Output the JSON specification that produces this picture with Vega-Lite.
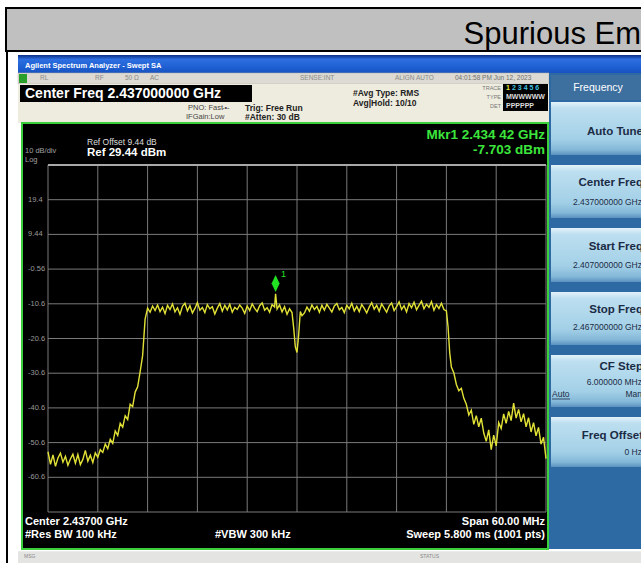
{
 "$schema": "https://vega.github.io/schema/vega-lite/v6.json",
 "width": 498, "height": 347,
 "autosize": {"type": "none"},
 "padding": {"left": 48, "top": 165, "right": 95, "bottom": 51},
 "background": "white",
 "view": {"stroke": null, "fill": null},
 "config": {"axis": {"disable": true}, "text": {"font": "Liberation Sans"}},
 "datasets": {
  "one": [{}],
  "gridx": [{"freq_ghz":2.407},{"freq_ghz":2.413},{"freq_ghz":2.419},{"freq_ghz":2.425},{"freq_ghz":2.431},{"freq_ghz":2.437},{"freq_ghz":2.443},{"freq_ghz":2.449},{"freq_ghz":2.455},{"freq_ghz":2.461},{"freq_ghz":2.467}],
  "gridy": [{"level_dbm":29.44},{"level_dbm":19.44},{"level_dbm":9.44},{"level_dbm":-0.56},{"level_dbm":-10.56},{"level_dbm":-20.56},{"level_dbm":-30.56},{"level_dbm":-40.56},{"level_dbm":-50.56},{"level_dbm":-60.56},{"level_dbm":-70.56}],
  "ylabels": [{"level_dbm":19.44,"label":"19.4"},{"level_dbm":9.44,"label":"9.44"},{"level_dbm":-0.56,"label":"-0.56"},{"level_dbm":-10.56,"label":"-10.6"},{"level_dbm":-20.56,"label":"-20.6"},{"level_dbm":-30.56,"label":"-30.6"},{"level_dbm":-40.56,"label":"-40.6"},{"level_dbm":-50.56,"label":"-50.6"},{"level_dbm":-60.56,"label":"-60.6"}],
  "marker": [{"freq_ghz":2.43442,"level_dbm":-7.703}],
  "trace": [
   {"freq_ghz":2.4070,"level_dbm":-53.2},{"freq_ghz":2.4073,"level_dbm":-56.8},{"freq_ghz":2.4076,"level_dbm":-54.1},{"freq_ghz":2.4079,"level_dbm":-57.4},{"freq_ghz":2.4082,"level_dbm":-55.0},{"freq_ghz":2.4085,"level_dbm":-53.6},{"freq_ghz":2.4088,"level_dbm":-56.2},{"freq_ghz":2.4091,"level_dbm":-54.5},{"freq_ghz":2.4094,"level_dbm":-57.1},{"freq_ghz":2.4097,"level_dbm":-55.3},{"freq_ghz":2.4100,"level_dbm":-53.9},{"freq_ghz":2.4103,"level_dbm":-56.5},{"freq_ghz":2.4106,"level_dbm":-54.0},{"freq_ghz":2.4109,"level_dbm":-56.9},{"freq_ghz":2.4112,"level_dbm":-55.4},{"freq_ghz":2.4115,"level_dbm":-52.8},{"freq_ghz":2.4118,"level_dbm":-55.9},{"freq_ghz":2.4121,"level_dbm":-54.2},{"freq_ghz":2.4124,"level_dbm":-56.3},{"freq_ghz":2.4127,"level_dbm":-53.5},{"freq_ghz":2.4130,"level_dbm":-54.8},{"freq_ghz":2.4133,"level_dbm":-52.6},
   {"freq_ghz":2.4136,"level_dbm":-53.4},{"freq_ghz":2.4139,"level_dbm":-51.0},{"freq_ghz":2.4142,"level_dbm":-52.3},{"freq_ghz":2.4145,"level_dbm":-49.6},{"freq_ghz":2.4148,"level_dbm":-50.8},{"freq_ghz":2.4151,"level_dbm":-47.2},{"freq_ghz":2.4154,"level_dbm":-48.5},{"freq_ghz":2.4157,"level_dbm":-45.0},{"freq_ghz":2.4160,"level_dbm":-46.1},{"freq_ghz":2.4163,"level_dbm":-42.8},{"freq_ghz":2.4166,"level_dbm":-43.9},{"freq_ghz":2.4169,"level_dbm":-39.5},{"freq_ghz":2.4172,"level_dbm":-40.2},{"freq_ghz":2.4175,"level_dbm":-36.0},{"freq_ghz":2.4178,"level_dbm":-34.5},{"freq_ghz":2.4181,"level_dbm":-30.2},{"freq_ghz":2.4184,"level_dbm":-25.5},{"freq_ghz":2.4187,"level_dbm":-15.0},
   {"freq_ghz":2.4190,"level_dbm":-11.8},{"freq_ghz":2.4193,"level_dbm":-13.0},{"freq_ghz":2.4196,"level_dbm":-11.2},{"freq_ghz":2.4199,"level_dbm":-12.5},{"freq_ghz":2.4202,"level_dbm":-10.9},{"freq_ghz":2.4205,"level_dbm":-12.8},{"freq_ghz":2.4208,"level_dbm":-11.5},{"freq_ghz":2.4211,"level_dbm":-13.4},{"freq_ghz":2.4214,"level_dbm":-11.0},{"freq_ghz":2.4217,"level_dbm":-12.2},{"freq_ghz":2.4220,"level_dbm":-10.6},{"freq_ghz":2.4223,"level_dbm":-12.9},{"freq_ghz":2.4226,"level_dbm":-11.7},{"freq_ghz":2.4229,"level_dbm":-13.6},{"freq_ghz":2.4232,"level_dbm":-11.3},{"freq_ghz":2.4235,"level_dbm":-10.4},{"freq_ghz":2.4238,"level_dbm":-12.6},{"freq_ghz":2.4241,"level_dbm":-11.1},{"freq_ghz":2.4244,"level_dbm":-13.2},{"freq_ghz":2.4247,"level_dbm":-11.9},{"freq_ghz":2.4250,"level_dbm":-10.2},{"freq_ghz":2.4253,"level_dbm":-12.4},{"freq_ghz":2.4256,"level_dbm":-11.6},{"freq_ghz":2.4259,"level_dbm":-13.1},{"freq_ghz":2.4262,"level_dbm":-10.8},{"freq_ghz":2.4265,"level_dbm":-12.0},{"freq_ghz":2.4268,"level_dbm":-11.4},{"freq_ghz":2.4271,"level_dbm":-13.5},{"freq_ghz":2.4274,"level_dbm":-11.8},{"freq_ghz":2.4277,"level_dbm":-10.5},{"freq_ghz":2.4280,"level_dbm":-12.7},{"freq_ghz":2.4283,"level_dbm":-11.0},{"freq_ghz":2.4286,"level_dbm":-12.3},{"freq_ghz":2.4289,"level_dbm":-10.7},{"freq_ghz":2.4292,"level_dbm":-13.0},{"freq_ghz":2.4295,"level_dbm":-11.6},{"freq_ghz":2.4298,"level_dbm":-12.2},{"freq_ghz":2.4301,"level_dbm":-10.9},{"freq_ghz":2.4304,"level_dbm":-11.8},{"freq_ghz":2.4307,"level_dbm":-13.3},{"freq_ghz":2.4310,"level_dbm":-11.2},{"freq_ghz":2.4313,"level_dbm":-12.5},{"freq_ghz":2.4316,"level_dbm":-10.6},{"freq_ghz":2.4319,"level_dbm":-11.9},{"freq_ghz":2.4322,"level_dbm":-12.8},{"freq_ghz":2.4325,"level_dbm":-11.1},{"freq_ghz":2.4328,"level_dbm":-10.3},{"freq_ghz":2.4331,"level_dbm":-12.4},{"freq_ghz":2.4334,"level_dbm":-11.7},{"freq_ghz":2.4337,"level_dbm":-13.0},{"freq_ghz":2.4340,"level_dbm":-10.8},{"freq_ghz":2.4343,"level_dbm":-11.5},{"freq_ghz":2.43442,"level_dbm":-7.703},{"freq_ghz":2.4346,"level_dbm":-12.1},{"freq_ghz":2.4349,"level_dbm":-10.9},{"freq_ghz":2.4352,"level_dbm":-12.9},{"freq_ghz":2.4355,"level_dbm":-11.4},{"freq_ghz":2.4358,"level_dbm":-13.6},{"freq_ghz":2.4361,"level_dbm":-12.0},{"freq_ghz":2.4364,"level_dbm":-13.1},{"freq_ghz":2.4366,"level_dbm":-17.5},{"freq_ghz":2.4368,"level_dbm":-23.0},{"freq_ghz":2.4370,"level_dbm":-24.6},{"freq_ghz":2.4372,"level_dbm":-19.5},{"freq_ghz":2.4374,"level_dbm":-12.8},{"freq_ghz":2.4376,"level_dbm":-14.0},{"freq_ghz":2.4379,"level_dbm":-13.2},{"freq_ghz":2.4382,"level_dbm":-11.5},{"freq_ghz":2.4385,"level_dbm":-12.7},{"freq_ghz":2.4388,"level_dbm":-10.9},{"freq_ghz":2.4391,"level_dbm":-12.2},{"freq_ghz":2.4394,"level_dbm":-11.3},{"freq_ghz":2.4397,"level_dbm":-13.0},{"freq_ghz":2.4400,"level_dbm":-11.0},{"freq_ghz":2.4403,"level_dbm":-12.4},{"freq_ghz":2.4406,"level_dbm":-10.7},{"freq_ghz":2.4409,"level_dbm":-11.8},{"freq_ghz":2.4412,"level_dbm":-12.9},{"freq_ghz":2.4415,"level_dbm":-11.2},{"freq_ghz":2.4418,"level_dbm":-10.5},{"freq_ghz":2.4421,"level_dbm":-12.3},{"freq_ghz":2.4424,"level_dbm":-11.6},{"freq_ghz":2.4427,"level_dbm":-13.1},{"freq_ghz":2.4430,"level_dbm":-11.0},{"freq_ghz":2.4433,"level_dbm":-12.0},{"freq_ghz":2.4436,"level_dbm":-10.4},{"freq_ghz":2.4439,"level_dbm":-12.6},{"freq_ghz":2.4442,"level_dbm":-11.3},{"freq_ghz":2.4445,"level_dbm":-12.8},{"freq_ghz":2.4448,"level_dbm":-10.8},{"freq_ghz":2.4451,"level_dbm":-11.9},{"freq_ghz":2.4454,"level_dbm":-13.2},{"freq_ghz":2.4457,"level_dbm":-11.5},{"freq_ghz":2.4460,"level_dbm":-10.2},{"freq_ghz":2.4463,"level_dbm":-12.1},{"freq_ghz":2.4466,"level_dbm":-11.0},{"freq_ghz":2.4469,"level_dbm":-12.7},{"freq_ghz":2.4472,"level_dbm":-10.6},{"freq_ghz":2.4475,"level_dbm":-11.8},{"freq_ghz":2.4478,"level_dbm":-13.0},{"freq_ghz":2.4481,"level_dbm":-11.2},{"freq_ghz":2.4484,"level_dbm":-10.3},{"freq_ghz":2.4487,"level_dbm":-12.5},{"freq_ghz":2.4490,"level_dbm":-11.4},{"freq_ghz":2.4493,"level_dbm":-10.0},{"freq_ghz":2.4496,"level_dbm":-12.2},{"freq_ghz":2.4499,"level_dbm":-11.1},{"freq_ghz":2.4502,"level_dbm":-12.9},{"freq_ghz":2.4505,"level_dbm":-10.5},{"freq_ghz":2.4508,"level_dbm":-11.7},{"freq_ghz":2.4511,"level_dbm":-10.1},{"freq_ghz":2.4514,"level_dbm":-12.3},{"freq_ghz":2.4517,"level_dbm":-11.0},{"freq_ghz":2.4520,"level_dbm":-9.8},{"freq_ghz":2.4523,"level_dbm":-12.0},{"freq_ghz":2.4526,"level_dbm":-10.7},{"freq_ghz":2.4529,"level_dbm":-11.6},{"freq_ghz":2.4532,"level_dbm":-9.9},{"freq_ghz":2.4535,"level_dbm":-12.4},{"freq_ghz":2.4538,"level_dbm":-10.8},{"freq_ghz":2.4541,"level_dbm":-11.9},{"freq_ghz":2.4544,"level_dbm":-10.4},{"freq_ghz":2.4547,"level_dbm":-12.2},{"freq_ghz":2.4550,"level_dbm":-12.6},
   {"freq_ghz":2.4552,"level_dbm":-17.2},{"freq_ghz":2.4554,"level_dbm":-24.7},{"freq_ghz":2.4556,"level_dbm":-28.8},{"freq_ghz":2.4559,"level_dbm":-30.5},{"freq_ghz":2.4562,"level_dbm":-33.8},{"freq_ghz":2.4565,"level_dbm":-35.6},{"freq_ghz":2.4568,"level_dbm":-34.9},{"freq_ghz":2.4571,"level_dbm":-37.8},{"freq_ghz":2.4574,"level_dbm":-39.5},{"freq_ghz":2.4577,"level_dbm":-42.6},{"freq_ghz":2.4580,"level_dbm":-41.2},{"freq_ghz":2.4583,"level_dbm":-45.3},{"freq_ghz":2.4586,"level_dbm":-42.8},{"freq_ghz":2.4589,"level_dbm":-46.0},{"freq_ghz":2.4592,"level_dbm":-43.5},{"freq_ghz":2.4595,"level_dbm":-47.8},{"freq_ghz":2.4598,"level_dbm":-50.2},{"freq_ghz":2.4601,"level_dbm":-46.9},{"freq_ghz":2.4604,"level_dbm":-52.6},{"freq_ghz":2.4607,"level_dbm":-48.4},{"freq_ghz":2.4610,"level_dbm":-51.5},{"freq_ghz":2.4613,"level_dbm":-44.8},{"freq_ghz":2.4616,"level_dbm":-46.5},{"freq_ghz":2.4619,"level_dbm":-42.3},{"freq_ghz":2.4622,"level_dbm":-45.0},{"freq_ghz":2.4625,"level_dbm":-41.6},{"freq_ghz":2.4628,"level_dbm":-44.2},{"freq_ghz":2.4631,"level_dbm":-39.2},{"freq_ghz":2.4634,"level_dbm":-43.5},{"freq_ghz":2.4637,"level_dbm":-41.0},{"freq_ghz":2.4640,"level_dbm":-44.6},{"freq_ghz":2.4643,"level_dbm":-42.2},{"freq_ghz":2.4646,"level_dbm":-46.0},{"freq_ghz":2.4649,"level_dbm":-43.4},{"freq_ghz":2.4652,"level_dbm":-47.5},{"freq_ghz":2.4655,"level_dbm":-44.8},{"freq_ghz":2.4658,"level_dbm":-48.6},{"freq_ghz":2.4661,"level_dbm":-46.2},{"freq_ghz":2.4664,"level_dbm":-51.0},{"freq_ghz":2.4667,"level_dbm":-49.0},{"freq_ghz":2.4670,"level_dbm":-55.2}
  ]
 },
 "layer": [
  {"data":{"name":"trace"},"mark":{"type":"line","opacity":0},"encoding":{"x":{"field":"freq_ghz","type":"quantitative","scale":{"domain":[2.407,2.467],"nice":false,"zero":false},"axis":null},"y":{"field":"level_dbm","type":"quantitative","scale":{"domain":[-70.56,29.44],"nice":false,"zero":false},"axis":null}}},
  {"data":{"name":"one"},"mark":{"type":"rect","fill":"#c0c0c0","stroke":"#000000","strokeWidth":2},"encoding":{"x":{"datum":2.40194},"x2":{"datum":2.47953},"y":{"datum":74.685},"y2":{"datum":62.293}}},
  {"data":{"name":"one"},"mark":{"type":"text","align":"right","baseline":"alphabetic","fontSize":31,"color":"#000000"},"encoding":{"x":{"datum":2.478446},"y":{"datum":64.31},"text":{"value":"Spurious Em"}}},
  {"data":{"name":"one"},"mark":{"type":"rule","color":"#000000","strokeWidth":2},"encoding":{"x":{"datum":2.40206},"y":{"datum":62.293},"y2":{"datum":-87.3}}},
  {"data":{"name":"one"},"mark":{"type":"rect","fill":{"gradient":"linear","x1":0,"y1":0,"x2":0,"y2":1,"stops":[{"offset":0,"color":"#0c2f86"},{"offset":0.25,"color":"#2d6fe0"},{"offset":0.7,"color":"#1e5fd2"},{"offset":1,"color":"#1852bf"}]}},"encoding":{"x":{"datum":2.403386},"x2":{"datum":2.47953},"y":{"datum":61.14},"y2":{"datum":55.953}}},
  {"data":{"name":"one"},"mark":{"type":"text","align":"left","baseline":"middle","fontSize":7.5,"fontWeight":"bold","color":"#ffffff"},"encoding":{"x":{"datum":2.404229},"y":{"datum":57.97},"text":{"value":"Agilent Spectrum Analyzer - Swept SA"}}},
  {"data":{"name":"one"},"mark":{"type":"rect","fill":"#dcdad2","stroke":"#b8b6ae","strokeWidth":0.5},"encoding":{"x":{"datum":2.403386},"x2":{"datum":2.467361},"y":{"datum":55.953},"y2":{"datum":52.783}}},
  {"data":{"name":"one"},"mark":{"type":"rect","fill":"#2aa02a"},"encoding":{"x":{"datum":2.403506},"x2":{"datum":2.40447},"y":{"datum":55.665},"y2":{"datum":53.071}}},
  {"data":{"name":"one"},"mark":{"type":"text","align":"left","baseline":"middle","fontSize":6.5,"color":"#8a8a8a"},"encoding":{"x":{"datum":2.406036},"y":{"datum":54.368},"text":{"value":"RL"}}},
  {"data":{"name":"one"},"mark":{"type":"text","align":"left","baseline":"middle","fontSize":6.5,"color":"#8a8a8a"},"encoding":{"x":{"datum":2.412663},"y":{"datum":54.368},"text":{"value":"RF"}}},
  {"data":{"name":"one"},"mark":{"type":"text","align":"left","baseline":"middle","fontSize":6.5,"color":"#8a8a8a"},"encoding":{"x":{"datum":2.416277},"y":{"datum":54.368},"text":{"value":"50 Ω"}}},
  {"data":{"name":"one"},"mark":{"type":"text","align":"left","baseline":"middle","fontSize":6.5,"color":"#8a8a8a"},"encoding":{"x":{"datum":2.419289},"y":{"datum":54.368},"text":{"value":"AC"}}},
  {"data":{"name":"one"},"mark":{"type":"text","align":"left","baseline":"middle","fontSize":6.5,"color":"#8a8a8a"},"encoding":{"x":{"datum":2.437361},"y":{"datum":54.368},"text":{"value":"SENSE:INT"}}},
  {"data":{"name":"one"},"mark":{"type":"text","align":"left","baseline":"middle","fontSize":6.5,"color":"#8a8a8a"},"encoding":{"x":{"datum":2.448807},"y":{"datum":54.368},"text":{"value":"ALIGN AUTO"}}},
  {"data":{"name":"one"},"mark":{"type":"text","align":"left","baseline":"middle","fontSize":6.5,"color":"#707070"},"encoding":{"x":{"datum":2.456036},"y":{"datum":54.368},"text":{"value":"04:01:58 PM Jun 12, 2023"}}},
  {"data":{"name":"one"},"mark":{"type":"rect","fill":"#eeecdf"},"encoding":{"x":{"datum":2.403386},"x2":{"datum":2.467361},"y":{"datum":52.783},"y2":{"datum":41.544}}},
  {"data":{"name":"one"},"mark":{"type":"rect","fill":"#000000"},"encoding":{"x":{"datum":2.403627},"x2":{"datum":2.431578},"y":{"datum":52.495},"y2":{"datum":47.596}}},
  {"data":{"name":"one"},"mark":{"type":"text","align":"left","baseline":"middle","fontSize":14,"fontWeight":"bold","color":"#ffffff"},"encoding":{"x":{"datum":2.404229},"y":{"datum":50.045},"text":{"value":"Center Freq 2.437000000 GHz"}}},
  {"data":{"name":"one"},"mark":{"type":"text","align":"left","baseline":"middle","fontSize":7.5,"color":"#444444"},"encoding":{"x":{"datum":2.423867},"y":{"datum":45.867},"text":{"value":"PNO: Fast"}}},
  {"data":{"name":"one"},"mark":{"type":"text","align":"left","baseline":"middle","fontSize":7.5,"color":"#444444"},"encoding":{"x":{"datum":2.427964},"y":{"datum":45.867},"text":{"value":"-•-"}}},
  {"data":{"name":"one"},"mark":{"type":"text","align":"left","baseline":"middle","fontSize":7.5,"color":"#444444"},"encoding":{"x":{"datum":2.423627},"y":{"datum":43.273},"text":{"value":"IFGain:Low"}}},
  {"data":{"name":"one"},"mark":{"type":"text","align":"left","baseline":"middle","fontSize":8.5,"fontWeight":"bold","color":"#222222"},"encoding":{"x":{"datum":2.430735},"y":{"datum":45.867},"text":{"value":"Trig: Free Run"}}},
  {"data":{"name":"one"},"mark":{"type":"text","align":"left","baseline":"middle","fontSize":8.5,"fontWeight":"bold","color":"#222222"},"encoding":{"x":{"datum":2.430735},"y":{"datum":43.273},"text":{"value":"#Atten: 30 dB"}}},
  {"data":{"name":"one"},"mark":{"type":"text","align":"left","baseline":"middle","fontSize":8.5,"fontWeight":"bold","color":"#222222"},"encoding":{"x":{"datum":2.443747},"y":{"datum":50.189},"text":{"value":"#Avg Type: RMS"}}},
  {"data":{"name":"one"},"mark":{"type":"text","align":"left","baseline":"middle","fontSize":8.5,"fontWeight":"bold","color":"#222222"},"encoding":{"x":{"datum":2.443747},"y":{"datum":47.307},"text":{"value":"Avg|Hold: 10/10"}}},
  {"data":{"name":"one"},"mark":{"type":"rect","fill":"#000000"},"encoding":{"x":{"datum":2.461819},"x2":{"datum":2.467241},"y":{"datum":52.783},"y2":{"datum":45.002}}},
  {"data":{"name":"one"},"mark":{"type":"text","align":"right","baseline":"middle","fontSize":5.5,"color":"#777777"},"encoding":{"x":{"datum":2.461578},"y":{"datum":51.63},"text":{"value":"TRACE"}}},
  {"data":{"name":"one"},"mark":{"type":"text","align":"right","baseline":"middle","fontSize":5.5,"color":"#777777"},"encoding":{"x":{"datum":2.461578},"y":{"datum":49.037},"text":{"value":"TYPE"}}},
  {"data":{"name":"one"},"mark":{"type":"text","align":"right","baseline":"middle","fontSize":5.5,"color":"#777777"},"encoding":{"x":{"datum":2.461578},"y":{"datum":46.443},"text":{"value":"DET"}}},
  {"data":{"name":"one"},"mark":{"type":"text","align":"left","baseline":"middle","fontSize":7,"fontWeight":"bold","color":"#e8e840"},"encoding":{"x":{"datum":2.462181},"y":{"datum":51.63},"text":{"value":"1"}}},
  {"data":{"name":"one"},"mark":{"type":"text","align":"left","baseline":"middle","fontSize":7,"fontWeight":"bold","color":"#40c0e0","dx":6},"encoding":{"x":{"datum":2.462181},"y":{"datum":51.63},"text":{"value":"2 3 4 5 6"}}},
  {"data":{"name":"one"},"mark":{"type":"text","align":"left","baseline":"middle","fontSize":7,"fontWeight":"bold","color":"#dddddd"},"encoding":{"x":{"datum":2.462181},"y":{"datum":49.037},"text":{"value":"MWWWWW"}}},
  {"data":{"name":"one"},"mark":{"type":"text","align":"left","baseline":"middle","fontSize":7,"fontWeight":"bold","color":"#dddddd"},"encoding":{"x":{"datum":2.462181},"y":{"datum":46.443},"text":{"value":"PPPPPP"}}},
  {"data":{"name":"one"},"mark":{"type":"rect","fill":"#2d6aa3"},"encoding":{"x":{"datum":2.467361},"x2":{"datum":2.47953},"y":{"datum":55.953},"y2":{"datum":-81.223}}},
  {"data":{"name":"one"},"mark":{"type":"rect","fill":"#3d6f9f"},"encoding":{"x":{"datum":2.467602},"x2":{"datum":2.47953},"y":{"datum":55.377},"y2":{"datum":48.172}}},
  {"data":{"name":"one"},"mark":{"type":"text","align":"center","baseline":"middle","fontSize":10.5,"color":"#ffffff"},"encoding":{"x":{"datum":2.473265},"y":{"datum":51.63},"text":{"value":"Frequency"}}},
  {"data":{"name":"one"},"mark":{"type":"rect","fill":{"gradient":"linear","x1":0,"y1":0,"x2":0,"y2":1,"stops":[{"offset":0,"color":"#e3f2fa"},{"offset":0.12,"color":"#bddff0"},{"offset":0.7,"color":"#a3d0e7"},{"offset":0.9,"color":"#84b8d8"},{"offset":1,"color":"#5a91bf"}]}},"encoding":{"x":{"datum":2.467602},"x2":{"datum":2.47953},"y":{"datum":47.596},"y2":{"datum":32.322}}},
  {"data":{"name":"one"},"mark":{"type":"rect","fill":{"gradient":"linear","x1":0,"y1":0,"x2":0,"y2":1,"stops":[{"offset":0,"color":"#e3f2fa"},{"offset":0.12,"color":"#bddff0"},{"offset":0.7,"color":"#a3d0e7"},{"offset":0.9,"color":"#84b8d8"},{"offset":1,"color":"#5a91bf"}]}},"encoding":{"x":{"datum":2.467602},"x2":{"datum":2.47953},"y":{"datum":29.44},"y2":{"datum":14.166}}},
  {"data":{"name":"one"},"mark":{"type":"rect","fill":{"gradient":"linear","x1":0,"y1":0,"x2":0,"y2":1,"stops":[{"offset":0,"color":"#e3f2fa"},{"offset":0.12,"color":"#bddff0"},{"offset":0.7,"color":"#a3d0e7"},{"offset":0.9,"color":"#84b8d8"},{"offset":1,"color":"#5a91bf"}]}},"encoding":{"x":{"datum":2.467602},"x2":{"datum":2.47953},"y":{"datum":11.284},"y2":{"datum":-4.278}}},
  {"data":{"name":"one"},"mark":{"type":"rect","fill":{"gradient":"linear","x1":0,"y1":0,"x2":0,"y2":1,"stops":[{"offset":0,"color":"#e3f2fa"},{"offset":0.12,"color":"#bddff0"},{"offset":0.7,"color":"#a3d0e7"},{"offset":0.9,"color":"#84b8d8"},{"offset":1,"color":"#5a91bf"}]}},"encoding":{"x":{"datum":2.467602},"x2":{"datum":2.47953},"y":{"datum":-7.159},"y2":{"datum":-22.433}}},
  {"data":{"name":"one"},"mark":{"type":"rect","fill":{"gradient":"linear","x1":0,"y1":0,"x2":0,"y2":1,"stops":[{"offset":0,"color":"#e3f2fa"},{"offset":0.12,"color":"#bddff0"},{"offset":0.7,"color":"#a3d0e7"},{"offset":0.9,"color":"#84b8d8"},{"offset":1,"color":"#5a91bf"}]}},"encoding":{"x":{"datum":2.467602},"x2":{"datum":2.47953},"y":{"datum":-25.315},"y2":{"datum":-40.301}}},
  {"data":{"name":"one"},"mark":{"type":"rect","fill":{"gradient":"linear","x1":0,"y1":0,"x2":0,"y2":1,"stops":[{"offset":0,"color":"#e3f2fa"},{"offset":0.12,"color":"#bddff0"},{"offset":0.7,"color":"#a3d0e7"},{"offset":0.9,"color":"#84b8d8"},{"offset":1,"color":"#5a91bf"}]}},"encoding":{"x":{"datum":2.467602},"x2":{"datum":2.47953},"y":{"datum":-43.182},"y2":{"datum":-57.592}}},
  {"data":{"name":"one"},"mark":{"type":"text","align":"right","baseline":"middle","fontSize":11.5,"fontWeight":"bold","color":"#1b2b45"},"encoding":{"x":{"datum":2.478687},"y":{"datum":38.95},"text":{"value":"Auto Tune"}}},
  {"data":{"name":"one"},"mark":{"type":"text","align":"right","baseline":"middle","fontSize":11.5,"fontWeight":"bold","color":"#1b2b45"},"encoding":{"x":{"datum":2.478687},"y":{"datum":24.253},"text":{"value":"Center Freq"}}},
  {"data":{"name":"one"},"mark":{"type":"text","align":"right","baseline":"middle","fontSize":8.5,"color":"#1b2b45"},"encoding":{"x":{"datum":2.478566},"y":{"datum":18.777},"text":{"value":"2.437000000 GHz"}}},
  {"data":{"name":"one"},"mark":{"type":"text","align":"right","baseline":"middle","fontSize":11.5,"fontWeight":"bold","color":"#1b2b45"},"encoding":{"x":{"datum":2.478687},"y":{"datum":5.809},"text":{"value":"Start Freq"}}},
  {"data":{"name":"one"},"mark":{"type":"text","align":"right","baseline":"middle","fontSize":8.5,"color":"#1b2b45"},"encoding":{"x":{"datum":2.478566},"y":{"datum":0.622},"text":{"value":"2.407000000 GHz"}}},
  {"data":{"name":"one"},"mark":{"type":"text","align":"right","baseline":"middle","fontSize":11.5,"fontWeight":"bold","color":"#1b2b45"},"encoding":{"x":{"datum":2.478687},"y":{"datum":-12.347},"text":{"value":"Stop Freq"}}},
  {"data":{"name":"one"},"mark":{"type":"text","align":"right","baseline":"middle","fontSize":8.5,"color":"#1b2b45"},"encoding":{"x":{"datum":2.478566},"y":{"datum":-17.246},"text":{"value":"2.467000000 GHz"}}},
  {"data":{"name":"one"},"mark":{"type":"text","align":"right","baseline":"middle","fontSize":11.5,"fontWeight":"bold","color":"#1b2b45"},"encoding":{"x":{"datum":2.478687},"y":{"datum":-28.773},"text":{"value":"CF Step"}}},
  {"data":{"name":"one"},"mark":{"type":"text","align":"right","baseline":"middle","fontSize":8.5,"color":"#1b2b45"},"encoding":{"x":{"datum":2.478566},"y":{"datum":-33.096},"text":{"value":"6.000000 MHz"}}},
  {"data":{"name":"one"},"mark":{"type":"text","align":"left","baseline":"middle","fontSize":8.5,"color":"#1b2b45"},"encoding":{"x":{"datum":2.467723},"y":{"datum":-36.554},"text":{"value":"Auto"}}},
  {"data":{"name":"one"},"mark":{"type":"rule","color":"#1b2b45","strokeWidth":0.8},"encoding":{"x":{"datum":2.467723},"x2":{"datum":2.469892},"y":{"datum":-37.995}}},
  {"data":{"name":"one"},"mark":{"type":"text","align":"right","baseline":"middle","fontSize":8.5,"color":"#1b2b45"},"encoding":{"x":{"datum":2.478566},"y":{"datum":-36.554},"text":{"value":"Man"}}},
  {"data":{"name":"one"},"mark":{"type":"text","align":"right","baseline":"middle","fontSize":11.5,"fontWeight":"bold","color":"#1b2b45"},"encoding":{"x":{"datum":2.478687},"y":{"datum":-48.658},"text":{"value":"Freq Offset"}}},
  {"data":{"name":"one"},"mark":{"type":"text","align":"right","baseline":"middle","fontSize":8.5,"color":"#1b2b45"},"encoding":{"x":{"datum":2.478566},"y":{"datum":-53.269},"text":{"value":"0 Hz"}}},
  {"data":{"name":"one"},"mark":{"type":"rect","fill":"#000000","stroke":"#3ccf3c","strokeWidth":2},"encoding":{"x":{"datum":2.403867},"x2":{"datum":2.467241},"y":{"datum":41.544},"y2":{"datum":-81.223}}},
  {"data":{"name":"one"},"mark":{"type":"rect","fill":"#e4e4e2"},"encoding":{"x":{"datum":2.403386},"x2":{"datum":2.47953},"y":{"datum":-81.9},"y2":{"datum":-87.3}}},
  {"data":{"name":"one"},"mark":{"type":"text","align":"left","baseline":"middle","fontSize":5,"color":"#888888"},"encoding":{"x":{"datum":2.404108},"y":{"datum":-83.24},"text":{"value":"MSG"}}},
  {"data":{"name":"one"},"mark":{"type":"text","align":"left","baseline":"middle","fontSize":5,"color":"#888888"},"encoding":{"x":{"datum":2.451819},"y":{"datum":-83.24},"text":{"value":"STATUS"}}},
  {"data":{"name":"gridx"},"mark":{"type":"rule","color":"#7a7a7a","strokeWidth":1},"encoding":{"x":{"field":"freq_ghz","type":"quantitative"}}},
  {"data":{"name":"gridy"},"mark":{"type":"rule","color":"#7a7a7a","strokeWidth":1},"encoding":{"y":{"field":"level_dbm","type":"quantitative"}}},
  {"data":{"name":"one"},"mark":{"type":"rule","color":"#a8a8a8","strokeWidth":2},"encoding":{"y":{"datum":29.44}}},
  {"data":{"name":"ylabels"},"mark":{"type":"text","align":"left","baseline":"middle","fontSize":7.5,"color":"#9a9a9a"},"encoding":{"x":{"datum":2.40459},"y":{"field":"level_dbm","type":"quantitative"},"text":{"field":"label"}}},
  {"data":{"name":"one"},"mark":{"type":"text","align":"left","baseline":"middle","fontSize":8.5,"color":"#dddddd"},"encoding":{"x":{"datum":2.411699},"y":{"datum":36.068},"text":{"value":"Ref Offset 9.44 dB"}}},
  {"data":{"name":"one"},"mark":{"type":"text","align":"left","baseline":"middle","fontSize":7.5,"color":"#a0a0a0"},"encoding":{"x":{"datum":2.404229},"y":{"datum":33.474},"text":{"value":"10 dB/div"}}},
  {"data":{"name":"one"},"mark":{"type":"text","align":"left","baseline":"middle","fontSize":7.5,"color":"#a0a0a0"},"encoding":{"x":{"datum":2.404229},"y":{"datum":30.737},"text":{"value":"Log"}}},
  {"data":{"name":"one"},"mark":{"type":"text","align":"left","baseline":"middle","fontSize":11.5,"fontWeight":"bold","color":"#ffffff"},"encoding":{"x":{"datum":2.411699},"y":{"datum":32.898},"text":{"value":"Ref 29.44 dBm"}}},
  {"data":{"name":"one"},"mark":{"type":"text","align":"right","baseline":"middle","fontSize":13.5,"fontWeight":"bold","color":"#3ce63c"},"encoding":{"x":{"datum":2.46688},"y":{"datum":38.086},"text":{"value":"Mkr1 2.434 42 GHz"}}},
  {"data":{"name":"one"},"mark":{"type":"text","align":"right","baseline":"middle","fontSize":13.5,"fontWeight":"bold","color":"#3ce63c"},"encoding":{"x":{"datum":2.46688},"y":{"datum":33.763},"text":{"value":"-7.703 dBm"}}},
  {"data":{"name":"one"},"mark":{"type":"text","align":"left","baseline":"middle","fontSize":11,"fontWeight":"bold","color":"#ffffff"},"encoding":{"x":{"datum":2.404229},"y":{"datum":-73.442},"text":{"value":"Center 2.43700 GHz"}}},
  {"data":{"name":"one"},"mark":{"type":"text","align":"left","baseline":"middle","fontSize":11,"fontWeight":"bold","color":"#ffffff"},"encoding":{"x":{"datum":2.404229},"y":{"datum":-77.188},"text":{"value":"#Res BW 100 kHz"}}},
  {"data":{"name":"one"},"mark":{"type":"text","align":"left","baseline":"middle","fontSize":11,"fontWeight":"bold","color":"#ffffff"},"encoding":{"x":{"datum":2.42712},"y":{"datum":-77.188},"text":{"value":"#VBW 300 kHz"}}},
  {"data":{"name":"one"},"mark":{"type":"text","align":"right","baseline":"middle","fontSize":11,"fontWeight":"bold","color":"#ffffff"},"encoding":{"x":{"datum":2.46688},"y":{"datum":-73.442},"text":{"value":"Span 60.00 MHz"}}},
  {"data":{"name":"one"},"mark":{"type":"text","align":"right","baseline":"middle","fontSize":11,"fontWeight":"bold","color":"#ffffff"},"encoding":{"x":{"datum":2.46688},"y":{"datum":-77.188},"text":{"value":"Sweep  5.800 ms (1001 pts)"}}},
  {"data":{"name":"trace"},"mark":{"type":"line","color":"#e2e236","strokeWidth":1.4},"encoding":{"x":{"field":"freq_ghz","type":"quantitative"},"y":{"field":"level_dbm","type":"quantitative"}}},
  {"data":{"name":"marker"},"mark":{"type":"point","shape":"M0,-1L0.47,0L0,1L-0.47,0Z","size":289,"filled":true,"opacity":1,"color":"#22e022","yOffset":-10.5},"encoding":{"x":{"field":"freq_ghz","type":"quantitative"},"y":{"field":"level_dbm","type":"quantitative"}}},
  {"data":{"name":"marker"},"mark":{"type":"text","fontSize":9,"color":"#22e022","dx":8,"dy":-20},"encoding":{"x":{"field":"freq_ghz","type":"quantitative"},"y":{"field":"level_dbm","type":"quantitative"},"text":{"value":"1"}}}
 ]
}
